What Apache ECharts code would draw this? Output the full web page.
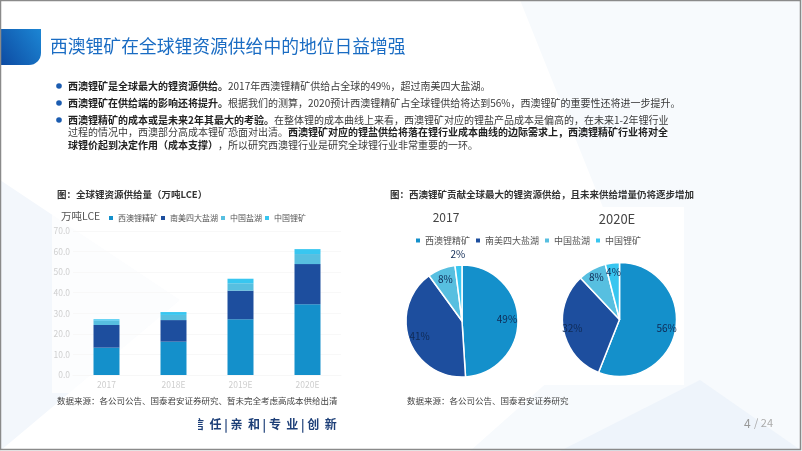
<!DOCTYPE html>
<html>
<head>
<meta charset="utf-8">
<script src="https://cdn.jsdelivr.net/npm/echarts@6/dist/echarts.min.js"></script>
<style>
html,body{margin:0;padding:0;background:#fff;}
#c{width:802px;height:451px;}
</style>
</head>
<body>
<div id="c"></div>
<script>
// ---- data ----
var categories = ['2017', '2018E', '2019E', '2020E'];
var seriesNames = ['西澳锂精矿', '南美四大盐湖', '中国盐湖', '中国锂矿'];
var waMine = [13.3, 16.2, 27.1, 34.4];
var saLake = [11.0, 10.5, 13.9, 19.5];
var cnLake = [2.2, 2.5, 3.6, 4.9];
var cnMine = [0.6, 1.4, 2.2, 2.4];
var yTicks = [0, 10, 20, 30, 40, 50, 60, 70];
var pie2017 = [49, 41, 8, 2];
var pie2020 = [56, 32, 8, 4];
var colors = ['#1490cb', '#1d4e9e', '#57bfe0', '#38c6f0'];

var FONT = '"Noto Sans CJK SC","Noto Sans",sans-serif';
var chart = echarts.init(document.getElementById('c'), null, {renderer: 'canvas'});

function pieData(vals) {
  return seriesNames.map(function (n, i) {
    return {name: n, value: vals[i], itemStyle: {color: colors[i]}};
  });
}
// labels shown only for the items selected by keep(i)
function labelData(vals, keep) {
  return seriesNames.map(function (n, i) {
    var d = {name: n, value: vals[i]};
    if (!keep(i)) d.label = {show: false};
    return d;
  });
}

var barSeries = [waMine, saLake, cnLake, cnMine].map(function (arr, i) {
  return {
    name: seriesNames[i], type: 'bar', stack: 'total', barWidth: 26,
    data: arr, itemStyle: {color: colors[i]}, emphasis: {disabled: true}
  };
});

var rich = {b: {fontWeight: 'bold', fontSize: 10, fontFamily: FONT, fill: '#222'}};

function txt(x, y, text) {
  return {type: 'text', z: 10, style: {
    text: text, x: x, y: y, fontSize: 10, fontFamily: FONT, fill: '#3a3a3a',
    verticalAlign: 'middle', textVerticalAlign: 'middle', rich: rich}};
}

var graphics = [
  // background faint shapes
  {type: 'polygon', shape: {points: [[520, 0], [802, 0], [802, 451], [470, 451], [640, 300]]}, style: {fill: '#f7fafd'}, z: 0},
  {type: 'polygon', shape: {points: [[0, 180], [180, 300], [0, 451]]}, style: {fill: '#f3f7fc'}, z: 0},
  {type: 'polygon', shape: {points: [[560, 451], [700, 380], [802, 451]]}, style: {fill: '#eef4fb'}, z: 0},
  // white panels
  {type: 'rect', shape: {x: 393, y: 207, width: 291, height: 178}, style: {fill: '#ffffff'}, z: 1},
  {type: 'rect', shape: {x: 52, y: 205, width: 300, height: 188}, style: {fill: '#ffffff', opacity: 0.7}, z: 1},
  // frame
  {type: 'rect', shape: {x: 0.5, y: 0.5, width: 800, height: 449}, style: {fill: 'none', stroke: '#8a8a8a', lineWidth: 1.5}, z: 20},
  // title block
  {type: 'rect', shape: {x: -12, y: 29, width: 53, height: 36, r: [0, 0, 12, 0]},
   style: {fill: new echarts.graphic.LinearGradient(0, 1, 1, 0, [{offset: 0, color: '#0a3f98'}, {offset: 1, color: '#1c86d4'}])}, z: 5},
  {type: 'text', style: {text: '西澳锂矿在全球锂资源供给中的地位日益增强', x: 50, y: 46, font: '17.8px ' + FONT, fill: '#1a6cc3', textVerticalAlign: 'middle'}, z: 10},
  // bullets
  {type: 'circle', shape: {cx: 59, cy: 86, r: 2.8}, style: {fill: '#1b5cb0'}, z: 10},
  {type: 'circle', shape: {cx: 59, cy: 103, r: 2.8}, style: {fill: '#1b5cb0'}, z: 10},
  {type: 'circle', shape: {cx: 59, cy: 120, r: 2.8}, style: {fill: '#1b5cb0'}, z: 10},
  txt(68, 86, '{b|西澳锂矿是全球最大的锂资源供给。}2017年西澳锂精矿供给占全球的49%，超过南美四大盐湖。'),
  txt(68, 103, '{b|西澳锂矿在供给端的影响还将提升。}根据我们的测算，2020预计西澳锂精矿占全球锂供给将达到56%，西澳锂矿的重要性还将进一步提升。'),
  txt(68, 120, '{b|西澳锂精矿的成本或是未来2年其最大的考验。}在整体锂的成本曲线上来看，西澳锂矿对应的锂盐产品成本是偏高的，在未来1-2年锂行业'),
  txt(68, 132.5, '过程的情况中，西澳部分高成本锂矿恐面对出清。{b|西澳锂矿对应的锂盐供给将落在锂行业成本曲线的边际需求上，西澳锂精矿行业将对全}'),
  txt(68, 145, '{b|球锂价起到决定作用（成本支撑）}，所以研究西澳锂行业是研究全球锂行业非常重要的一环。'),
  // chart titles
  {type: 'text', style: {text: '图：全球锂资源供给量（万吨LCE）', x: 57, y: 194, font: 'bold 9.5px ' + FONT, fill: '#333', textVerticalAlign: 'middle'}, z: 10},
  {type: 'text', style: {text: '万吨LCE', x: 61, y: 216, font: '10.5px ' + FONT, fill: '#555', textVerticalAlign: 'middle'}, z: 10},
  {type: 'text', style: {text: '图：西澳锂矿贡献全球最大的锂资源供给，且未来供给增量仍将逐步增加', x: 390, y: 194, font: 'bold 9.5px ' + FONT, fill: '#333', textVerticalAlign: 'middle'}, z: 10},
  {type: 'text', style: {text: '2017', x: 446, y: 217, font: '12px ' + FONT, fill: '#444', textAlign: 'center', textVerticalAlign: 'middle'}, z: 10},
  {type: 'text', style: {text: '2020E', x: 617, y: 219, font: '13px ' + FONT, fill: '#444', textAlign: 'center', textVerticalAlign: 'middle'}, z: 10},
  // sources
  {type: 'text', style: {text: '数据来源：各公司公告、国泰君安证券研究、暂未完全考虑高成本供给出清', x: 57, y: 401, font: '8.5px ' + FONT, fill: '#444', textVerticalAlign: 'middle'}, z: 10},
  {type: 'text', style: {text: '数据来源：各公司公告、国泰君安证券研究', x: 407, y: 401, font: '8.5px ' + FONT, fill: '#444', textVerticalAlign: 'middle'}, z: 10},
  // footer
  {type: 'text', style: {text: '信  任 | 亲  和 | 专  业 | 创  新', x: 192, y: 424, font: 'bold 12px ' + FONT, fill: '#1d3f78', textVerticalAlign: 'middle'}, z: 10},
  {type: 'rect', shape: {x: 185, y: 414, width: 13, height: 20}, style: {fill: '#ffffff'}, z: 11},
  {type: 'text', style: {text: '4', x: 744, y: 423, font: '12px ' + FONT, fill: '#999', textVerticalAlign: 'middle'}, z: 10},
  {type: 'text', style: {text: '/ 24', x: 754, y: 423, font: '11px ' + FONT, fill: '#aaa', textVerticalAlign: 'middle'}, z: 10}
];

var labelStyle = {show: true, position: 'inside', formatter: '{c}%', fontSize: 10, color: '#0f2a55'};
function overlay(name, center, radius, data) {
  return {type: 'pie', name: name, center: center, radius: radius, startAngle: 90, clockwise: true,
    data: data, itemStyle: {color: 'rgba(0,0,0,0)'}, label: labelStyle,
    labelLine: {show: false}, emphasis: {disabled: true}, silent: true, z: 4};
}

var option = {
  animation: false,
  textStyle: {fontFamily: FONT},
  graphic: graphics,
  legend: [
    {data: seriesNames, left: 104, top: 209, icon: 'rect', itemWidth: 4, itemHeight: 4, itemGap: 3,
     textStyle: {fontSize: 8, color: '#555'}, selectedMode: false},
    {data: seriesNames, left: 411, top: 231, icon: 'rect', itemWidth: 4, itemHeight: 4, itemGap: 6,
     textStyle: {fontSize: 9, color: '#555'}, selectedMode: false}
  ],
  grid: {left: 73, right: 461, top: 231, bottom: 76, containLabel: false},
  xAxis: {
    type: 'category', data: categories,
    axisLine: {show: true, lineStyle: {color: '#e3e3e3'}},
    axisTick: {show: false},
    axisLabel: {fontSize: 8.5, color: '#555', margin: 6}
  },
  yAxis: {
    type: 'value', min: yTicks[0], max: yTicks[yTicks.length - 1], interval: 10,
    axisLine: {show: false}, axisTick: {show: false},
    axisLabel: {fontSize: 8.5, color: '#5a5a5a', margin: 3, formatter: function (v) { return v.toFixed(1); }},
    splitLine: {lineStyle: {color: '#e6e6e6'}}
  },
  series: barSeries.concat([
    {type: 'pie', name: 'p2017', center: [462, 321], radius: [0, 56], startAngle: 90, clockwise: true,
     data: pieData(pie2017), label: {show: false}, labelLine: {show: false},
     itemStyle: {borderColor: '#fff', borderWidth: 1.5}, emphasis: {disabled: true}, silent: true, z: 3},
    {type: 'pie', name: 'p2020', center: [619.5, 319.5], radius: [0, 57], startAngle: 90, clockwise: true,
     data: pieData(pie2020), label: {show: false}, labelLine: {show: false},
     itemStyle: {borderColor: '#fff', borderWidth: 1.5}, emphasis: {disabled: true}, silent: true, z: 3},
    overlay('l2017', [462, 321], [28, 56], labelData(pie2017, function (i) { return i < 3; })),
    overlay('o2017', [462, 321], [56, 72], labelData(pie2017, function (i) { return i === 3; })),
    overlay('l2020', [619.5, 319.5], [30, 60], labelData(pie2020, function () { return true; }))
  ])
};
chart.setOption(option);
</script>
</body>
</html>
